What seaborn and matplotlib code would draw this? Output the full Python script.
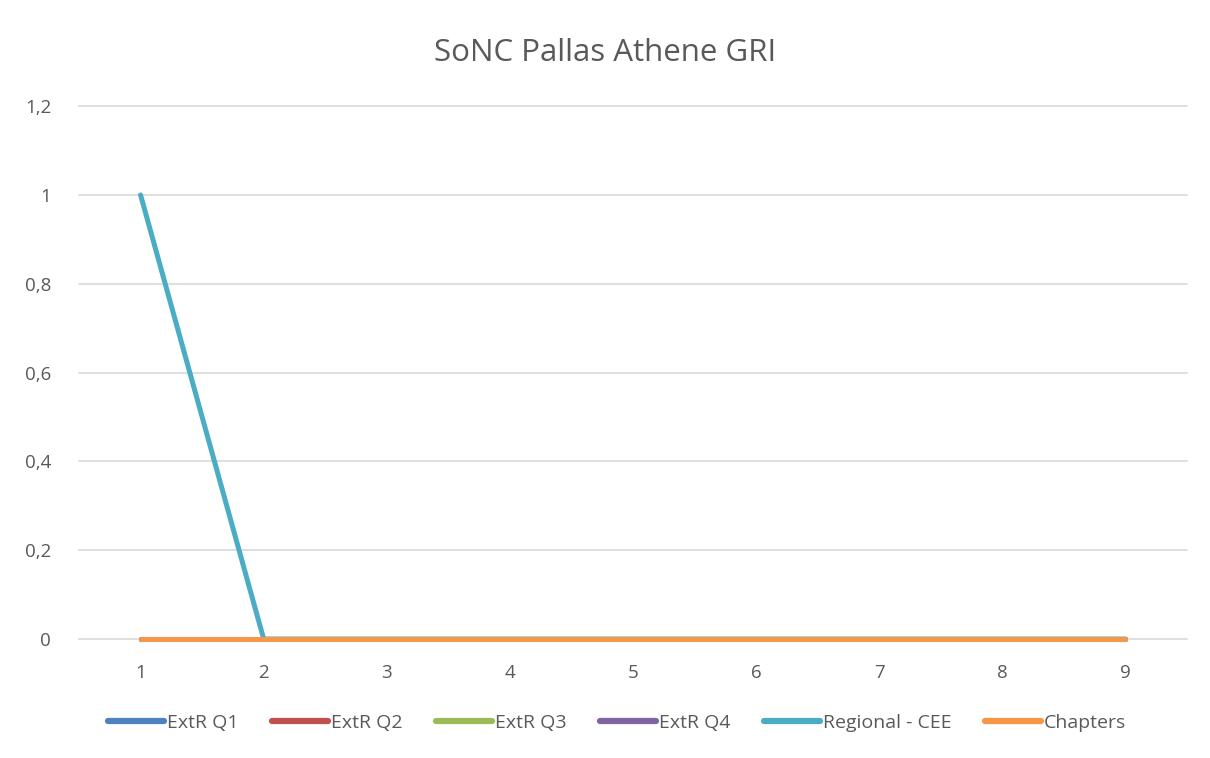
#!/usr/bin/env python3
"""Recreate the SoNC Pallas Athene GRI line chart."""

import matplotlib.pyplot as plt
import pandas as pd
import seaborn as sns

X = [1, 2, 3, 4, 5, 6, 7, 8, 9]
SERIES = ["ExtR Q1", "ExtR Q2", "ExtR Q3", "ExtR Q4", "Regional - CEE", "Chapters"]
EXTR_Q1 = [0, 0, 0, 0, 0, 0, 0, 0, 0]
EXTR_Q2 = [0, 0, 0, 0, 0, 0, 0, 0, 0]
EXTR_Q3 = [0, 0, 0, 0, 0, 0, 0, 0, 0]
EXTR_Q4 = [0, 0, 0, 0, 0, 0, 0, 0, 0]
REGIONAL_CEE = [1, 0, 0, 0, 0, 0, 0, 0, 0]
CHAPTERS = [0, 0, 0, 0, 0, 0, 0, 0, 0]
COLORS = ["#4F81BD", "#C0504D", "#9BBB59", "#8064A2", "#4BACC6", "#F79646"]
Y_TICKS = [0, 0.2, 0.4, 0.6, 0.8, 1.0, 1.2]
Y_LABELS = ["0", "0,2", "0,4", "0,6", "0,8", "1", "1,2"]


def main():
    values = [EXTR_Q1, EXTR_Q2, EXTR_Q3, EXTR_Q4, REGIONAL_CEE, CHAPTERS]
    rows = []
    for name, vals in zip(SERIES, values):
        for x, v in zip(X, vals):
            rows.append({"x": x, "value": v, "series": name})
    df = pd.DataFrame(rows)

    sns.set_style("white")
    plt.rcParams["font.family"] = ["Open Sans", "DejaVu Sans"]
    text_color = "#595959"

    fig = plt.figure(figsize=(12.1, 7.58), dpi=100)
    ax = fig.add_axes([0.0653, 0.157, 0.9157, 0.703])

    # one call per series so later series sit on top (Chapters last)
    for name, color in zip(SERIES, COLORS):
        sns.lineplot(
            data=df[df["series"] == name], x="x", y="value", color=color,
            linewidth=3.6, ax=ax, legend=False, solid_capstyle="round",
        )
    for i, line in enumerate(ax.lines):
        line.set_clip_on(False)
        line.set_zorder(5 + i)

    ax.set_xlim(0.5, 9.5)
    ax.set_ylim(0, 1.2)
    ax.set_yticks(Y_TICKS)
    ax.set_yticklabels(Y_LABELS)
    ax.set_xticks(X)
    ax.set_xticklabels([str(x) for x in X])
    ax.tick_params(axis="both", length=0, labelsize=13.5, colors=text_color)
    ax.tick_params(axis="x", pad=18)
    ax.tick_params(axis="y", pad=20)
    ax.yaxis.grid(True, color="#D9D9D9", linewidth=1.2, clip_on=False)
    ax.set_axisbelow(True)
    for side in ["top", "right", "left", "bottom"]:
        ax.spines[side].set_visible(False)
    ax.set_xlabel("")
    ax.set_ylabel("")

    fig.text(0.5, 0.93, "SoNC Pallas Athene GRI", ha="center", va="center",
             fontsize=22.5, color=text_color)

    handles = [plt.Line2D([], [], color=c, linewidth=4.5, solid_capstyle="round")
               for c in COLORS]
    fig.legend(handles, SERIES, loc="center", bbox_to_anchor=(0.51, 0.046),
               ncol=6, frameon=False, fontsize=14, labelcolor=text_color,
               handlelength=2.9, handletextpad=0.15, columnspacing=1.7)

    fig.savefig("out.png", dpi=100)
    plt.close(fig)


if __name__ == "__main__":
    main()
